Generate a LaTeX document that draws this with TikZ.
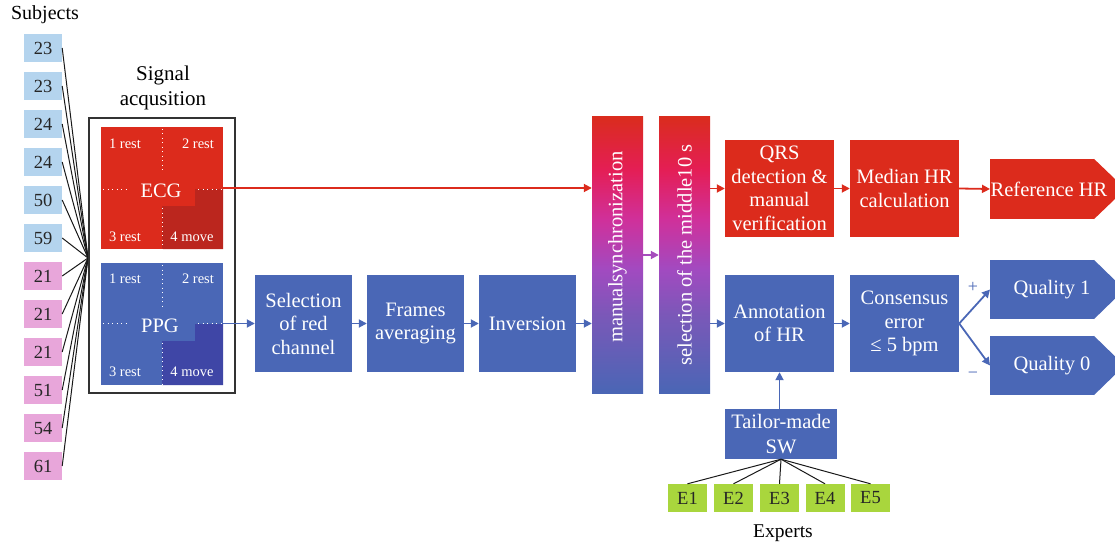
\documentclass[tikz,border=0pt]{standalone}
\usepackage{fontspec}
\setmainfont{Liberation Serif}
\usetikzlibrary{arrows.meta,calc}
\definecolor{cred}{HTML}{DC2B1C}
\definecolor{cdred}{HTML}{BB261E}
\definecolor{cblue}{HTML}{4A67B6}
\definecolor{cdblue}{HTML}{3F46A6}
\definecolor{clb}{HTML}{B4D4EE}
\definecolor{cpk}{HTML}{E8A6DA}
\definecolor{cgr}{HTML}{A9D63D}
\definecolor{cpu}{HTML}{A64DBD}
\definecolor{gr}{HTML}{DA2C1E}
\definecolor{gc}{HTML}{E41E55}
\definecolor{gm}{HTML}{D0309A}
\definecolor{gp}{HTML}{A24AC0}
\definecolor{gv}{HTML}{7A58B8}
\definecolor{gb}{HTML}{4A66B5}
\pgfdeclareverticalshading{bargrad}{100bp}{color(0bp)=(gb); color(25bp)=(gb); color(39bp)=(gv); color(47.5bp)=(gp); color(56.5bp)=(gm); color(65.5bp)=(gc); color(75bp)=(gr); color(100bp)=(gr)}
\begin{document}
\begin{tikzpicture}[x=1pt,y=-1pt,
  txt/.style={font=\fontsize{20}{24}\selectfont},
  box/.style={fill=cblue,text=white,minimum width=97pt,minimum height=97pt,inner sep=0pt,align=center,font=\fontsize{20.5}{23.5}\selectfont},
  rbox/.style={box,fill=cred,minimum width=109pt},
  bbox/.style={box,minimum width=109pt},
  subj/.style={minimum width=38pt,minimum height=28pt,inner sep=0pt,text=black!85,font=\fontsize{18.5}{20}\selectfont},
  ebox/.style={subj,fill=cgr,minimum width=39pt},
  bar/.style={shade,shading=bargrad,minimum width=51pt,minimum height=276pt,inner sep=0pt},
  bartxt/.style={rotate=90,text=white,font=\fontsize{20.5}{24}\selectfont},
  small/.style={text=white,font=\fontsize{14.5}{16}\selectfont,inner sep=0pt},
  sig/.style={text=white,font=\fontsize{20.5}{24}\selectfont,inner sep=0pt},
  dotw/.style={white,line width=0.9pt,dash pattern=on 0.9pt off 3.6pt},
  tip/.style={-{Triangle[length=8pt,width=8pt]}},
  rarr/.style={draw=cred,line width=1.8pt,tip},
  barr/.style={draw=cblue,line width=1.8pt,tip},
  parr/.style={draw=cpu,line width=1.8pt,tip},
  link/.style={draw=black!90,line width=1pt}]
\useasboundingbox (0,0) rectangle (1115,548);
\clip (0,0) rectangle (1115,548);

% Subjects
\node[txt] (subjl) at (45,15) {Subjects};
\foreach \v [count=\i] in {23,23,24,24,50,59}
  \node[subj,fill=clb] (s\i) at (43,{48+38*(\i-1)}) {\v};
\foreach \v [count=\i from 7] in {21,21,21,51,54,61}
  \node[subj,fill=cpk] (s\i) at (43,{48+38*(\i-1)}) {\v};
\coordinate (conv) at (88,258);
\foreach \i in {1,...,12} \draw[link] (s\i.east) -- (conv);

% Signal acquisition
\node[txt,align=center,font=\fontsize{21}{25}\selectfont] (sal) at (163,88) {Signal\\acqusition};
\node[draw=black!80,line width=1.3pt,minimum width=146pt,minimum height=275pt,inner sep=0pt] (sa) at (162,255.5) {};

% ECG block
\fill[cred] (101,127) rectangle (223,249);
\fill[cdred] (162,249) -- (162,206) -- (195,206) -- (195,189) -- (223,189) -- (223,249) -- cycle;
\draw[dotw] (162,129) -- (162,172);
\draw[dotw] (162,208) -- (162,249);
\draw[dotw] (103,189) -- (126,189);
\draw[dotw] (198,189) -- (223,189);
\node[minimum width=122pt,minimum height=122pt,inner sep=0pt] (ecg) at (162,188) {};
\node[sig] (ecgl) at (161,191) {ECG};
\node[small] (e1r) at (125,144) {1 rest};
\node[small] (e2r) at (198,144) {2 rest};
\node[small] (e3r) at (125,237) {3 rest};
\node[small] (e4m) at (192,237) {4 move};

% PPG block
\fill[cblue] (101,263) rectangle (223,385);
\fill[cdblue] (162,385) -- (162,341) -- (195,341) -- (195,324) -- (223,324) -- (223,385) -- cycle;
\draw[dotw] (162,265) -- (162,306);
\draw[dotw] (162,343) -- (162,385);
\draw[dotw] (103,323) -- (126,323);
\draw[dotw] (198,323) -- (223,323);
\node[minimum width=122pt,minimum height=122pt,inner sep=0pt] (ppg) at (162,323.5) {};
\node[sig] (ppgl) at (160,326) {PPG};
\node[small] (p1r) at (125,279) {1 rest};
\node[small] (p2r) at (198,279) {2 rest};
\node[small] (p3r) at (125,372) {3 rest};
\node[small] (p4m) at (192,372) {4 move};

% PPG chain
\node[box] (sel) at (303.5,323.5) {Selection\\of red\\channel};
\node[box] (frm) at (415.5,323.5) {Frames\\averaging};
\node[box] (inv) at (527.5,323.5) {Inversion};

% bars
\node[bar] (sync) at (617.5,255) {};
\node[bartxt] (synct) at (617.5,247) {manualsynchronization};
\node[bar] (mid) at (684.5,255) {};
\node[bartxt] (midt) at (684.5,255) {selection of the middle10 s};

% right part
\node[rbox] (qrs) at (779.5,188.5) {QRS\\detection \&\\manual\\verification};
\node[rbox] (med) at (904.5,188.5) {Median HR\\calculation};
\node[fill=cred,minimum width=104pt,minimum height=60pt,inner sep=0pt,anchor=west] (ref) at (990,189) {};
\fill[cred] ([xshift=-0.5pt]ref.north east) -- ([xshift=31pt]ref.east) -- ([xshift=-0.5pt]ref.south east) -- cycle;
\node[sig] (reft) at (1049,189) {Reference HR};

\node[bbox] (ann) at (779.5,323.5) {Annotation\\of HR};
\node[bbox] (cons) at (904.5,323.5) {Consensus\\error\\≤ 5 bpm};
\node[fill=cblue,minimum width=104pt,minimum height=59pt,inner sep=0pt,anchor=west] (q1) at (990,289.5) {};
\fill[cblue] ([xshift=-0.5pt]q1.north east) -- ([xshift=30pt]q1.east) -- ([xshift=-0.5pt]q1.south east) -- cycle;
\node[sig] (q1t) at (1052,289.5) {Quality 1};
\node[fill=cblue,minimum width=104pt,minimum height=59pt,inner sep=0pt,anchor=west] (q0) at (990,365.5) {};
\fill[cblue] ([xshift=-0.5pt]q0.north east) -- ([xshift=30pt]q0.east) -- ([xshift=-0.5pt]q0.south east) -- cycle;
\node[sig] (q0t) at (1052,365.5) {Quality 0};
\node[text=cblue,font=\fontsize{18}{20}\selectfont] (plus) at (973,287) {+};
\node[text=cblue,font=\fontsize{18}{20}\selectfont] (minus) at (973,375) {−};

% experts
\node[box,minimum width=112pt,minimum height=50pt,font=\fontsize{20.5}{24.5}\selectfont] (tail) at (781,434) {Tailor-made\\SW};
\foreach \x [count=\i] in {687.5,733.5,779.5,825,870.5}
  \node[ebox] (ex\i) at (\x,498) {E\i};
\foreach \i in {1,...,5} \draw[link] (tail.south) -- (ex\i.north);
\node[txt,font=\fontsize{19.5}{22}\selectfont] (expl) at (783,533) {Experts};

% arrows
\draw[rarr] (ecg.east) -- (ecg.east -| sync.west);
\draw[barr] (ppg.east) -- (sel.west);
\draw[barr] (sel.east) -- (frm.west);
\draw[barr] (frm.east) -- (inv.west);
\draw[barr] (inv.east) -- (inv.east -| sync.west);
\draw[parr] (sync.east) -- (mid.west);
\draw[rarr] (mid.east |- qrs.west) -- (qrs.west);
\draw[rarr] (qrs.east) -- (med.west);
\draw[rarr] (med.east) -- (ref.west);
\draw[barr] (mid.east |- ann.west) -- (ann.west);
\draw[barr] (ann.east) -- (cons.west);
\draw[barr] (cons.east) -- (q1.west);
\draw[barr] (cons.east) -- (q0.west);
\draw[barr] (ann.south |- tail.north) -- (ann.south);
\end{tikzpicture}
\end{document}
